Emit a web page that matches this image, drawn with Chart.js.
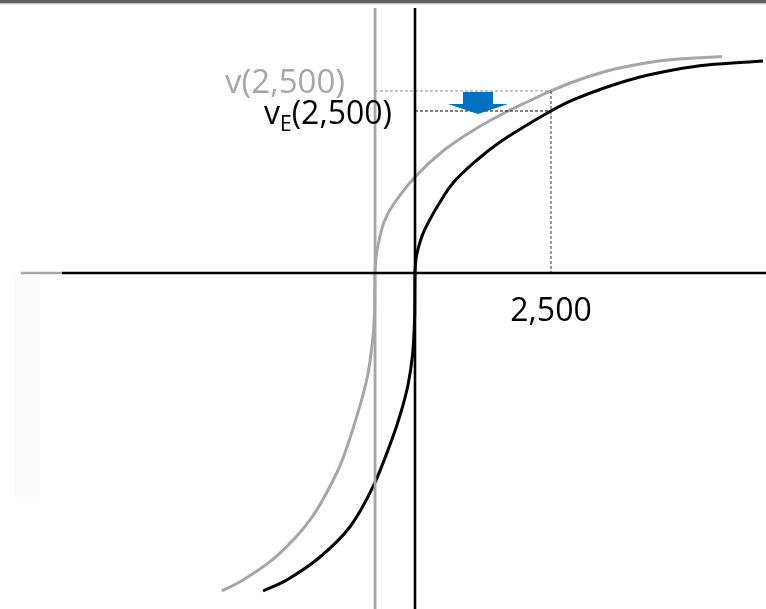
<!DOCTYPE html>
<html>
<head>
<meta charset="utf-8">
<script src="https://cdn.jsdelivr.net/npm/chart.js@4"></script>
<style>
    html, body { margin: 0; padding: 0; background: #fff; }
    #wrap { position: relative; width: 766px; height: 609px; }
</style>
</head>
<body>
<div id="wrap"><canvas id="chart"></canvas></div>
<script>
// value function after the loss (black) and the original one (gray)
const blackX = [-2794, -2358, -1746, -1195, -772, -428, -257, -129, -46, -9, 0, 18, 55, 129, 221, 404, 699, 1140, 1562, 2059, 2500, 2904, 3529, 4136, 4743, 5368, 6397];
const blackY = [-5845, -5643, -5220, -4664, -3928, -3070, -2555, -2059, -1507, -864, 0, 257, 441, 680, 882, 1213, 1654, 2077, 2408, 2721, 2978, 3180, 3419, 3603, 3732, 3823, 3897];
const grayX = [-3553, -3162, -2542, -1930, -1439, -1195, -888, -772, -744, -735, -717, -680, -570, -404, 0, 515, 1140, 1746, 2059, 2500, 2904, 3529, 4136, 4743, 5643];
const grayY = [-5845, -5643, -5202, -4540, -3676, -3033, -1967, -1171, -680, 0, 294, 515, 937, 1250, 1765, 2243, 2665, 2996, 3143, 3346, 3511, 3713, 3842, 3925, 3980];

const refGain = 2500;      // 2,500
const vRef = 3346;         // v(2,500)
const vERef = 2978;        // vE(2,500)
const grayOrigin = -735;   // shifted reference point

const xRange = [-7629, 6452];
const yRange = [-6176, 5018];

const pts = (xs, ys) => xs.map((x, i) => ({ x, y: ys[i] }));
const GRAY = '#a6a6a6';

const line = (data, color, width, dash) => ({
    data,
    borderColor: color,
    borderWidth: width,
    borderDash: dash || [],
    pointRadius: 0,
    showLine: true,
    fill: false,
    clip: false,
    tension: 0,
});

const curve = (data, color) => ({
    ...line(data, color, 3),
    tension: 0.35,
});

const decorations = {
    id: 'decorations',
    beforeDraw(chart) {
        const { ctx, width } = chart;
        ctx.save();
        ctx.fillStyle = '#606060';
        ctx.fillRect(0, 0, width, 3.5);
        ctx.fillStyle = '#dcdcdc';
        ctx.fillRect(0, 3.5, width, 1);
        ctx.fillStyle = '#fbfbfb';
        ctx.fillRect(14, 277, 26, 220);
        ctx.restore();
    },
    afterDraw(chart) {
        const { ctx, scales: { x, y } } = chart;
        const font = '32px "Open Sans"';
        ctx.save();

        // arrow
        const ax = x.getPixelForValue(1158);
        const top = y.getPixelForValue(vRef) + 1;
        const tip = y.getPixelForValue(vERef) + 3;
        ctx.fillStyle = '#0070c0';
        ctx.beginPath();
        ctx.moveTo(ax - 15, top);
        ctx.lineTo(ax + 15, top);
        ctx.lineTo(ax + 15, top + 12);
        ctx.lineTo(ax + 30, top + 12);
        ctx.lineTo(ax, tip);
        ctx.lineTo(ax - 30, top + 12);
        ctx.lineTo(ax - 15, top + 12);
        ctx.closePath();
        ctx.fill();

        // v(2,500)
        ctx.font = '33px "Open Sans"';
        ctx.textBaseline = 'alphabetic';
        ctx.textAlign = 'right';
        ctx.fillStyle = GRAY;
        ctx.fillText('v(2,500)', x.getPixelForValue(grayOrigin) - 30, y.getPixelForValue(vRef) + 2);

        // vE(2,500)
        ctx.fillStyle = '#000';
        ctx.textAlign = 'left';
        const right = x.getPixelForValue(0) - 23;
        const base = y.getPixelForValue(vERef) + 13;
        const subFont = '21px "Open Sans"';
        ctx.font = font;
        const wv = ctx.measureText('v').width;
        const wr = ctx.measureText('(2,500)').width;
        ctx.font = subFont;
        const we = ctx.measureText('E').width;
        let cx = right - wv - we - wr;
        ctx.font = font;
        ctx.fillText('v', cx, base);
        cx += wv;
        ctx.font = subFont;
        ctx.fillText('E', cx, base + 7);
        cx += we;
        ctx.font = font;
        ctx.fillText('(2,500)', cx, base);

        // 2,500 on the axis
        ctx.textAlign = 'center';
        ctx.fillText('2,500', x.getPixelForValue(refGain), y.getPixelForValue(0) + 48);
        ctx.restore();
    },
};

new Chart(document.getElementById('chart'), {
    type: 'scatter',
    data: {
        datasets: [
            // axes
            line([{ x: xRange[0] + 386, y: 0 }, { x: -6489, y: 0 }], GRAY, 2.6),
            line([{ x: -6489, y: 0 }, { x: xRange[1], y: 0 }], '#000', 2.6),
            line([{ x: grayOrigin, y: 4871 }, { x: grayOrigin, y: yRange[0] }], GRAY, 2.8),
            line([{ x: 0, y: 4871 }, { x: 0, y: yRange[0] }], '#000', 2.6),
            // guides
            line([{ x: grayOrigin, y: vRef }, { x: refGain, y: vRef }], '#8c8c8c', 1, [3, 2]),
            line([{ x: 0, y: vERef }, { x: refGain, y: vERef }], '#000', 1, [3, 2]),
            line([{ x: refGain, y: vRef }, { x: refGain, y: 0 }], '#333', 1, [3, 2]),
            // value functions
            curve(pts(grayX, grayY), GRAY),
            curve(pts(blackX, blackY), '#000'),
        ],
    },
    options: {
        responsive: true,
        maintainAspectRatio: false,
        animation: false,
        layout: { padding: 0 },
        plugins: {
            legend: { display: false },
            tooltip: { enabled: false },
        },
        scales: {
            x: { type: 'linear', min: xRange[0], max: xRange[1], display: false },
            y: { type: 'linear', min: yRange[0], max: yRange[1], display: false },
        },
    },
    plugins: [decorations],
});
</script>
</body>
</html>
